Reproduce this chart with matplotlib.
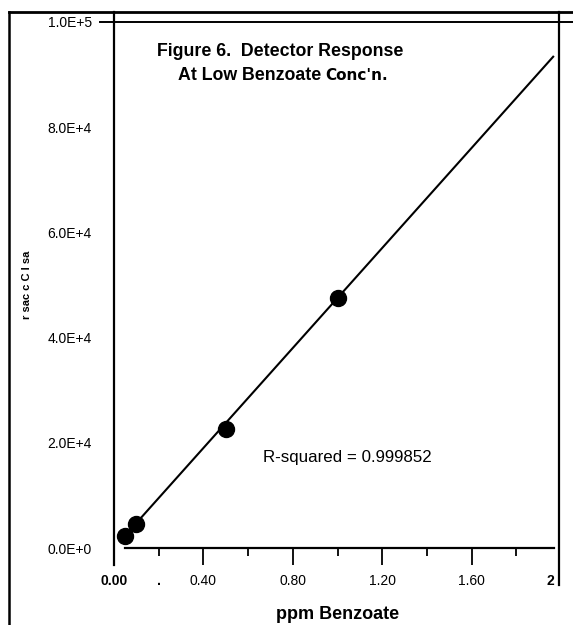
import matplotlib
matplotlib.use('Agg')
import matplotlib.pyplot as plt
from matplotlib.lines import Line2D
from matplotlib.transforms import ScaledTranslation

plt.rcParams['font.family'] = ['Liberation Sans', 'DejaVu Sans']

# calibration points
conc = [0.05, 0.1, 0.5, 1.0]
response = [2375, 4560, 22620, 47530]

# regression line (end points)
fit_x = [0.05, 1.965]
fit_y = [2375, 93400]
r_squared = 0.999852

yticks = [0, 2e4, 4e4, 6e4, 8e4, 1e5]
ytick_labels = ['0.0E+0', '2.0E+4', '4.0E+4', '6.0E+4', '8.0E+4', '1.0E+5']
xmajor = [0, 0.4, 0.8, 1.2, 1.6, 2.0]
xmajor_labels = ['0.00', '0.40', '0.80', '1.20', '1.60', '2']
xminor = [0.2, 0.6, 1.0, 1.4, 1.8]
xminor_labels = ['.', '', '', '', '']

W, H = 573, 625
fig = plt.figure(figsize=(W / 100, H / 100), dpi=100)
ax = fig.add_axes([114 / W, (H - 548) / H, 447 / W, 526 / H])

ax.plot(fit_x, fit_y, color='black', lw=1.5)
ax.plot(conc, response, 'o', color='black', ms=11.5)

ax.set_xlim(0, 2)
ax.set_ylim(0, 1e5)

for s in ['left', 'right', 'top']:
    ax.spines[s].set_visible(False)
ax.spines['bottom'].set_linewidth(1.6)
ax.spines['bottom'].set_bounds(0.05, 1.97)

ax.set_yticks(yticks, ytick_labels)
ax.tick_params(axis='y', length=0, pad=16, labelsize=10)

ax.set_xticks(xmajor, xmajor_labels)
ax.set_xticks(xminor, xminor_labels, minor=True)
ax.tick_params(axis='x', which='major', length=12, width=1.3, pad=7, labelsize=10)
ax.tick_params(axis='x', which='minor', length=6, width=1.3, pad=13, labelsize=10)
xt = ax.xaxis.get_major_ticks()
xt[0].tick1line.set_visible(False)
xt[-1].tick1line.set_visible(False)
labs = ax.get_xticklabels()
labs[0].set_fontweight('bold')
labs[-1].set_fontweight('bold')
labs[-1].set_ha('right')
labs[-1].set_transform(labs[-1].get_transform()
                       + ScaledTranslation(-7 / 100, 0, fig.dpi_scale_trans))
ax.get_xticklabels(minor=True)[0].set_fontweight('bold')

ax.set_xlabel('ppm Benzoate', fontsize=13, fontweight='bold', labelpad=13)

ax.text(0.668, 16300, f'R-squared = {r_squared}', fontsize=12.2, va='baseline')

# title block
fig.text(280 / W, 1 - 56 / H, 'Figure 6.  Detector Response', fontsize=12.75,
         fontweight='bold', ha='center', va='baseline')
fig.text(321 / W, 1 - 80 / H, 'At Low Benzoate', fontsize=12.75,
         fontweight='bold', ha='right', va='baseline')
fig.text(325 / W, 1 - 80 / H, "Conc'n.", fontsize=11, fontweight='bold',
         family=['DejaVu Sans'], ha='left', va='baseline')

# garbled y-axis title from the scan
fig.text(27 / W, 1 - 285 / H, 'r sac c C l sa', fontsize=8, fontweight='bold',
         rotation=90, ha='center', va='center')

# page frame lines
def fline(x0, y0, x1, y1, lw):
    fig.add_artist(Line2D([x0 / W, x1 / W], [1 - y0 / H, 1 - y1 / H],
                          transform=fig.transFigure, color='black', lw=lw))

fline(9, 12, 573, 12, 2.0)
fline(9, 12, 9, 625, 1.8)
fline(114, 12, 114, 565, 1.6)
fline(100, 21.5, 573, 21.5, 1.4)
fline(559, 12, 559, 585, 1.6)

fig.savefig('out.png', dpi=100)
